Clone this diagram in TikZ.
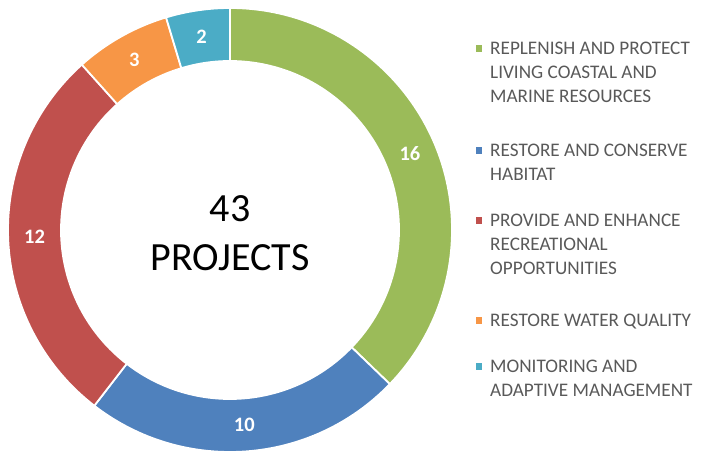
\documentclass[tikz,border=0pt]{standalone}
\usepackage{fontspec}
\setmainfont{Carlito}
\usetikzlibrary{positioning}
\usetikzlibrary{calc}

\definecolor{slicegreen}{HTML}{9BBB59}
\definecolor{sliceblue}{HTML}{4F81BD}
\definecolor{slicered}{HTML}{C0504D}
\definecolor{sliceorange}{HTML}{F79646}
\definecolor{sliceteal}{HTML}{4BACC6}
\definecolor{keygray}{HTML}{595959}

\tikzset{
  slice/.style={draw=white, line width=1.8pt},
  count/.style={text=white, inner sep=0pt, font=\fontsize{20.5}{24}\selectfont\bfseries},
  keytext/.style={text=keygray, inner sep=0pt, anchor=north west, align=left,
    font=\fontsize{19.2}{24}\selectfont},
  keybox/.style={minimum size=6.5pt, inner sep=0pt}
}

\begin{document}
\begin{tikzpicture}[x=1pt,y=1pt]
        \useasboundingbox (0,0) rectangle (701,453);
        \coordinate (c) at (230,223);

        % ring, clockwise from the top: 16, 10, 12, 3, 2 of 43
        \filldraw[slice, fill=slicegreen] ($(c)+(90:222)$) arc (90:-43.95:222)
            -- ($(c)+(-43.95:169)$) arc (-43.95:90:169) -- cycle;
        \filldraw[slice, fill=sliceblue] ($(c)+(-43.95:222)$) arc (-43.95:-127.67:222)
            -- ($(c)+(-127.67:169)$) arc (-127.67:-43.95:169) -- cycle;
        \filldraw[slice, fill=slicered] ($(c)+(-127.67:222)$) arc (-127.67:-228.14:222)
            -- ($(c)+(-228.14:169)$) arc (-228.14:-127.67:169) -- cycle;
        \filldraw[slice, fill=sliceorange] ($(c)+(-228.14:222)$) arc (-228.14:-253.26:222)
            -- ($(c)+(-253.26:169)$) arc (-253.26:-228.14:169) -- cycle;
        \filldraw[slice, fill=sliceteal] ($(c)+(-253.26:222)$) arc (-253.26:-270:222)
            -- ($(c)+(-270:169)$) arc (-270:-253.26:169) -- cycle;

        \node[count] (ngreen) at ($(c)+(23.02:195.5)$) {16};
        \node[count] (nblue) at ($(c)+(-85.81:195.5)$) {10};
        \node[count] (nred) at ($(c)+(-177.91:195.5)$) {12};
        \node[count] (norange) at ($(c)+(-240.70:195.5)$) {3};
        \node[count] (nteal) at ($(c)+(-261.63:195.5)$) {2};

        \node[anchor=north, inner sep=0pt, align=center, font=\fontsize{40}{49}\selectfont]
            (total) at (230,258) {43\\PROJECTS};

        % legend
        \node[keytext] (kgreen) at (490,411) {REPLENISH AND PROTECT\\LIVING COASTAL AND\\MARINE RESOURCES};
        \node[keytext] (kblue) at (490,309) {RESTORE AND CONSERVE\\HABITAT};
        \node[keytext] (kred) at (490,239) {PROVIDE AND ENHANCE\\RECREATIONAL\\OPPORTUNITIES};
        \node[keytext] (korange) at (490,139) {RESTORE WATER QUALITY};
        \node[keytext] (kteal) at (490,93) {MONITORING AND\\ADAPTIVE MANAGEMENT};

        \node[keybox, fill=slicegreen] (bgreen) at ([xshift=-11pt,yshift=-6.5pt]kgreen.north west) {};
        \node[keybox, fill=sliceblue] (bblue) at ([xshift=-11pt,yshift=-6.5pt]kblue.north west) {};
        \node[keybox, fill=slicered] (bred) at ([xshift=-11pt,yshift=-6.5pt]kred.north west) {};
        \node[keybox, fill=sliceorange] (borange) at ([xshift=-11pt,yshift=-6.5pt]korange.north west) {};
        \node[keybox, fill=sliceteal] (bteal) at ([xshift=-11pt,yshift=-6.5pt]kteal.north west) {};
    \end{tikzpicture}
\end{document}
